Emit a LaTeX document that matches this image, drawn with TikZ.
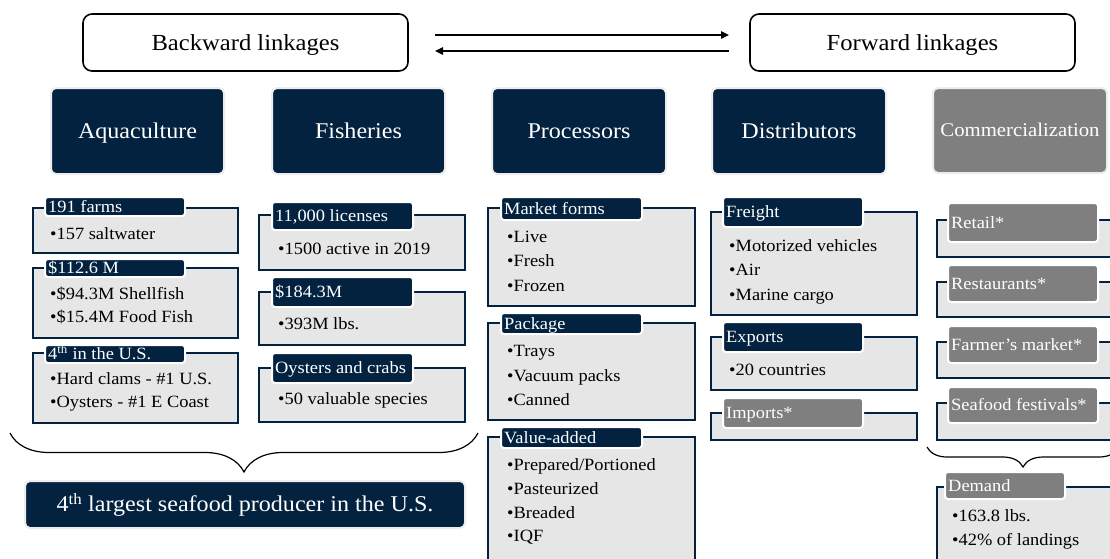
\documentclass[tikz,border=0pt]{standalone}
\usepackage{fontspec}
\setmainfont{Liberation Serif}[FakeStretch=1.07]
\usetikzlibrary{fit,decorations.pathreplacing,arrows.meta}
\definecolor{navy}{RGB}{2,34,64}
\definecolor{boxgray}{RGB}{231,230,230}
\definecolor{labgray}{RGB}{127,127,127}
\newcommand\fitm{\fontsize{17.2}{20}\selectfont}
\newcommand\fhead{\fontsize{22.5}{26}\selectfont}
\newcounter{itmc}
\newcommand\bul[3]{\stepcounter{itmc}\node[itm] (itm\arabic{itmc}) at (#1,#2) {\textbullet#3};}
\newcommand\lab[7]{% style, name, x1,y1,x2,y2, text
  \node[#1, fit={(#3,#4)(#5,#6)}] (#2) {};
  \node[labtxt] (#2t) at ([xshift=4pt,yshift=-5.7pt]#2.west) {#7};}
\tikzset{
  outer/.style={fill=boxgray, draw=navy, line width=1.6pt, inner sep=0pt},
  nlab/.style={fill=navy, draw=white, line width=2pt, rounded corners=3pt, inner sep=0pt},
  glab/.style={nlab, fill=labgray},
  labtxt/.style={anchor=base west, text=white, font=\fitm, inner sep=0pt},
  itm/.style={anchor=base west, font=\fitm, inner sep=0pt, text=black},
  head/.style={fill=navy, draw=black!7, line width=2pt, rounded corners=5pt, inner sep=0pt,
    minimum width=173pt, minimum height=86pt,
    text=white, font=\fhead, text height=14.9pt, text depth=0pt},
  ghead/.style={head, fill=labgray},
  link/.style={draw=black, line width=1.6pt, rounded corners=9pt, inner sep=0pt, fill=white,
    minimum width=325pt, minimum height=57pt,
    font=\fontsize{23}{26}\selectfont, text height=15.2pt, text depth=0pt},
  arr/.style={line width=1.3pt, -{Triangle[length=8pt,width=7.5pt]}},
  brc/.style={decorate, line width=1.2pt},
}
\begin{document}
\begin{tikzpicture}[x=1pt,y=-1pt]
\useasboundingbox (0,0) rectangle (1110,558);
\clip (0,0) rectangle (1110,558);
\fill[white] (0,0) rectangle (1110,558);

% top linkage boxes and arrows
\node[link] (bw) at (245.5,42.5) {Backward linkages};
\node[link] (fw) at (912.5,42.5) {Forward linkages};
\coordinate (r1) at (435,35); \coordinate (r2) at (729,35);
\coordinate (l1) at (729,51); \coordinate (l2) at (435,51);
\draw[arr] (r1) -- (r2);
\draw[arr] (l1) -- (l2);

% headers
\node[head] (aq) at (137.5,131) {Aquaculture};
\node[head] (fi) at (358.5,131) {Fisheries};
\node[head, minimum width=174pt] (pr) at (579,131) {Processors};
\node[head, minimum width=174pt] (di) at (799,131) {Distributors};
\node[ghead, minimum width=174pt, minimum height=85pt, font=\fontsize{19.4}{22}\selectfont, text height=12.8pt] (co) at (1020,130.5) {Commercialization};

% Aquaculture
\node[outer, fit={(33,208)(238,253)}] (a1) {};
\lab{nlab}{a1l}{45}{197}{185}{216}{191 farms}
\bul{50}{239}{157 saltwater}
\node[outer, fit={(33,268)(238,338)}] (a2) {};
\lab{nlab}{a2l}{45}{259}{185}{277}{\$112.6 M}
\bul{50}{299}{\$94.3M Shellfish}
\bul{50}{322}{\$15.4M Food Fish}
\node[outer, fit={(33,353)(238,423)}] (a3) {};
\lab{nlab}{a3l}{45}{345}{185}{363}{4\textsuperscript{th} in the U.S.}
\bul{50}{384}{Hard clams - \#1 U.S.}
\bul{50}{407.5}{Oysters - \#1 E Coast}

% Fisheries
\node[outer, fit={(259,215)(465,270)}] (f1) {};
\lab{nlab}{f1l}{272}{202}{413}{230}{11,000 licenses}
\bul{278}{254}{1500 active in 2019}
\node[outer, fit={(259,292)(465,345)}] (f2) {};
\lab{nlab}{f2l}{272}{277}{413}{307}{\$184.3M}
\bul{278}{329.5}{393M lbs.}
\node[outer, fit={(259,368)(465,422)}] (f3) {};
\lab{nlab}{f3l}{272}{353}{413}{383}{Oysters and crabs}
\bul{278}{404.5}{50 valuable species}

% Processors
\node[outer, fit={(488,208)(695,306)}] (p1) {};
\lab{nlab}{p1l}{501}{197}{642}{220}{Market forms}
\bul{507}{242}{Live}
\bul{507}{266.5}{Fresh}
\bul{507}{291}{Frozen}
\node[outer, fit={(488,323)(695,420)}] (p2) {};
\lab{nlab}{p2l}{501}{313}{642}{334}{Package}
\bul{507}{356.5}{Trays}
\bul{507}{381}{Vacuum packs}
\bul{507}{405}{Canned}
\node[outer, fit={(488,437)(695,575)}] (p3) {};
\lab{nlab}{p3l}{501}{427}{642}{448}{Value-added}
\bul{507}{470}{Prepared/Portioned}
\bul{507}{494}{Pasteurized}
\bul{507}{518}{Breaded}
\bul{507}{541.5}{IQF}

% Distributors
\node[outer, fit={(711,212)(917,315)}] (d1) {};
\lab{nlab}{d1l}{723}{197}{863}{227}{Freight}
\bul{729}{251.5}{Motorized vehicles}
\bul{729}{275.5}{Air}
\bul{729}{300}{Marine cargo}
\node[outer, fit={(711,337)(917,390)}] (d2) {};
\lab{nlab}{d2l}{723}{322}{863}{352}{Exports}
\bul{729}{375.5}{20 countries}
\node[outer, fit={(711,413)(917,440)}] (d3) {};
\lab{glab}{d3l}{723}{398}{863}{428}{Imports*}

% Commercialization
\node[outer, fit={(937,220)(1125,257)}] (c1) {};
\lab{glab}{c1l}{948}{203}{1098}{242}{Retail*}
\node[outer, fit={(937,282)(1125,317)}] (c2) {};
\lab{glab}{c2l}{948}{265}{1098}{302}{Restaurants*}
\node[outer, fit={(937,342)(1125,378)}] (c3) {};
\lab{glab}{c3l}{948}{326}{1098}{363}{Farmer’s market*}
\node[outer, fit={(937,403)(1125,440)}] (c4) {};
\lab{glab}{c4l}{948}{387}{1098}{423}{Seafood festivals*}
\node[outer, fit={(937,487)(1125,575)}] (dm) {};
\lab{glab}{dml}{945}{472}{1065}{499}{Demand}
\bul{952}{521.5}{163.8 lbs.}
\bul{952}{545}{42\% of landings}

% braces
\coordinate (b1) at (478,433); \coordinate (b2) at (10,433);
\draw[brc, decoration={brace, amplitude=39pt}] (b1) -- (b2);
\coordinate (b3) at (1119,447); \coordinate (b4) at (927,447);
\draw[brc, decoration={brace, amplitude=20pt}] (b3) -- (b4);

% bottom box
\node[head, minimum width=440pt, minimum height=47pt] (big) at (245,504.5) {4\textsuperscript{th} largest seafood producer in the U.S.};
\end{tikzpicture}
\end{document}
